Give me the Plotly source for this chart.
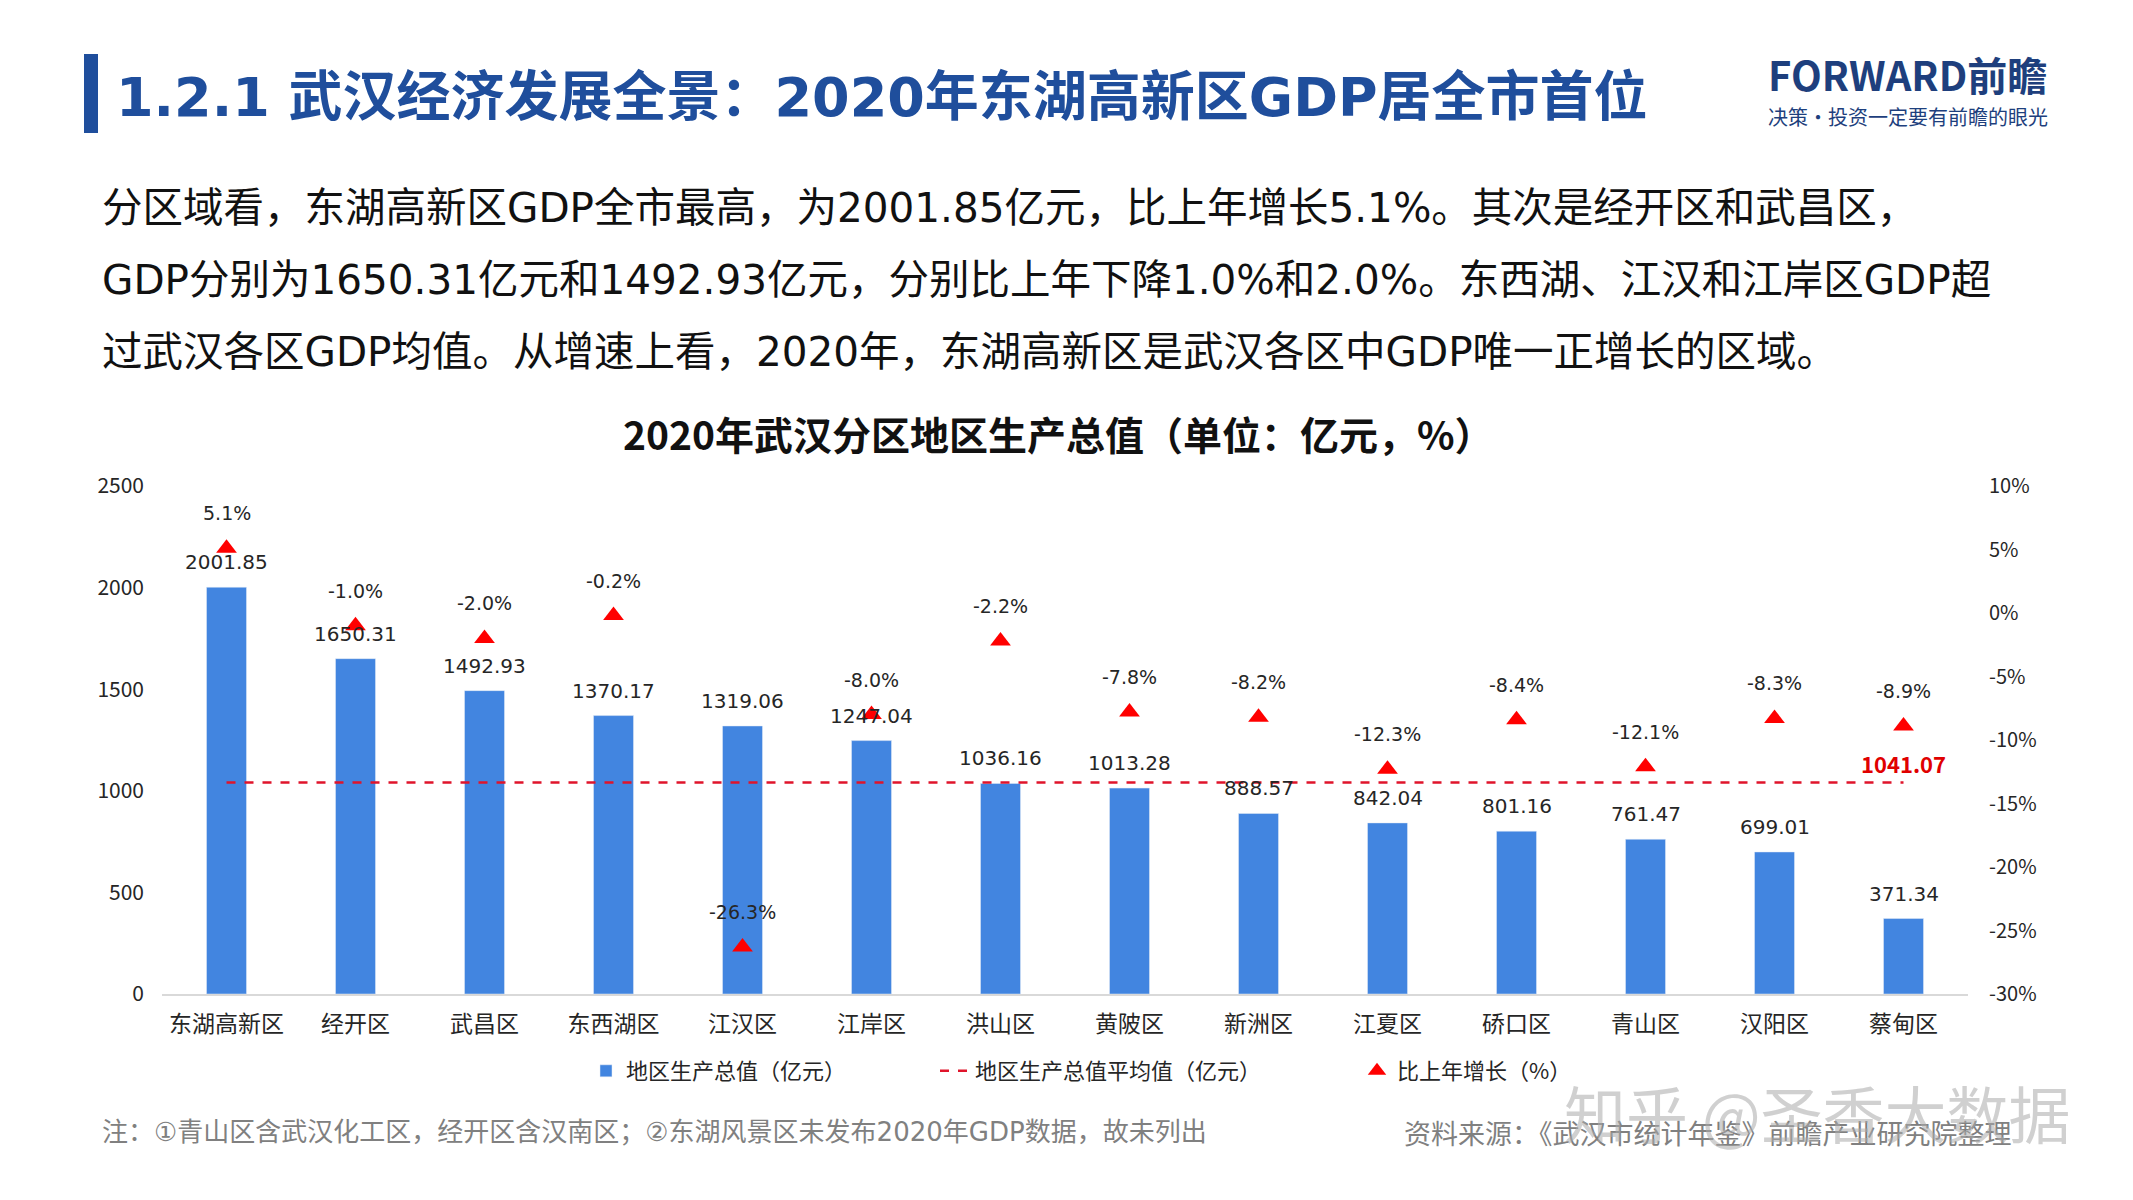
import plotly.graph_objects as go

# ---------------- data ----------------
districts = ["东湖高新区", "经开区", "武昌区", "东西湖区", "江汉区", "江岸区", "洪山区",
             "黄陂区", "新洲区", "江夏区", "硚口区", "青山区", "汉阳区", "蔡甸区"]
gdp = [2001.85, 1650.31, 1492.93, 1370.17, 1319.06, 1247.04, 1036.16,
       1013.28, 888.57, 842.04, 801.16, 761.47, 699.01, 371.34]
growth = [5.1, -1.0, -2.0, -0.2, -26.3, -8.0, -2.2, -7.8, -8.2, -12.3, -8.4, -12.1, -8.3, -8.9]
gdp_avg = 1041.07

left_ticks = [0, 500, 1000, 1500, 2000, 2500]
right_ticks = [10, 5, 0, -5, -10, -15, -20, -25, -30]
right_tick_text = ["10%", "5%", "0%", "-5%", "-10%", "-15%", "-20%", "-25%", "-30%"]

page_title = "1.2.1 武汉经济发展全景：2020年东湖高新区GDP居全市首位"
chart_title = "2020年武汉分区地区生产总值（单位：亿元，%）"
paragraph = [
    "分区域看，东湖高新区GDP全市最高，为2001.85亿元，比上年增长5.1%。其次是经开区和武昌区，",
    "GDP分别为1650.31亿元和1492.93亿元，分别比上年下降1.0%和2.0%。东西湖、江汉和江岸区GDP超",
    "过武汉各区GDP均值。从增速上看，2020年，东湖高新区是武汉各区中GDP唯一正增长的区域。",
]
note_text = "注：①青山区含武汉化工区，经开区含汉南区；②东湖风景区未发布2020年GDP数据，故未列出"
source_text = "资料来源：《武汉市统计年鉴》前瞻产业研究院整理"
legend_names = ["地区生产总值（亿元）", "地区生产总值平均值（亿元）", "比上年增长（%）"]

# ---------------- layout geometry ----------------
W, H = 2133, 1200
OFF = 8  # page body margin
PL, PR, PT, PB = 162, 1968, 486, 994  # target plot area in screenshot pixels
FONT = "Noto Sans CJK SC, Noto Sans, sans-serif"
WIDE = "DejaVu Sans, Noto Sans CJK SC, sans-serif"


def px(x):
    return (x - PL) / (PR - PL)


def py(y):
    return (PB - y) / (PB - PT)


fig = go.Figure()

fig.add_trace(go.Bar(
    x=districts, y=gdp, name=legend_names[0],
    marker=dict(color="#4285e0"), width=0.31, yaxis="y", legend="legend",
))
fig.add_trace(go.Scatter(
    x=districts, y=[gdp_avg] * len(districts), name=legend_names[1],
    mode="lines", line=dict(color="#e0142b", width=2.5, dash="dash"), yaxis="y",
    legend="legend2",
))
fig.add_trace(go.Scatter(
    x=districts, y=growth, name=legend_names[2],
    mode="markers", marker=dict(symbol="triangle-up", size=18, color="#ff0000"),
    yaxis="y2", legend="legend3",
))

annotations = []
# bar value labels
for d, v in zip(districts, gdp):
    annotations.append(dict(x=d, y=v, xref="x", yref="y", text=f"{v:.2f}",
                            showarrow=False, yshift=25,
                            font=dict(size=20, color="#262626", family=WIDE)))
# growth labels
for d, g in zip(districts, growth):
    annotations.append(dict(x=d, y=g, xref="x", yref="y2", text=f"{g:.1f}%",
                            showarrow=False, yshift=35,
                            font=dict(size=19, color="#262626", family=WIDE)))
# average label
annotations.append(dict(x=districts[-1], y=gdp_avg, xref="x", yref="y",
                        text=f"<b>{gdp_avg:.2f}</b>", showarrow=False, yshift=19,
                        font=dict(size=22, color="#e00000", family=FONT)))

# page texts (positions given in screenshot pixels)
annotations.append(dict(x=px(114), y=py(97), xref="paper", yref="paper", text=f"<b>{page_title}</b>",
                        xanchor="left", yanchor="middle", showarrow=False, align="left",
                        font=dict(size=54, color="#1f4e9c", family=WIDE)))
annotations.append(dict(x=px(1766), y=py(74), xref="paper", yref="paper", text="<b>FORWARD前瞻</b>",
                        xanchor="left", yanchor="middle", showarrow=False, align="left",
                        font=dict(size=40, color="#1e3f7d", family=FONT)))
annotations.append(dict(x=px(1766), y=py(116), xref="paper", yref="paper", text="决策·投资一定要有前瞻的眼光",
                        xanchor="left", yanchor="middle", showarrow=False, align="left",
                        font=dict(size=20, color="#1e3f7d", family=FONT)))
for i, line in enumerate(paragraph):
    annotations.append(dict(x=px(100), y=py(208 + 72 * i), xref="paper", yref="paper", text=line,
                            xanchor="left", yanchor="middle", showarrow=False, align="left",
                            font=dict(size=40.5, color="#111111", family=WIDE)))
annotations.append(dict(x=px(1058), y=py(433), xref="paper", yref="paper", text=f"<b>{chart_title}</b>",
                        xanchor="center", yanchor="middle", showarrow=False,
                        font=dict(size=39, color="#111111", family=FONT)))
annotations.append(dict(x=px(100), y=py(1132), xref="paper", yref="paper", text=note_text,
                        xanchor="left", yanchor="middle", showarrow=False, align="left",
                        font=dict(size=26, color="#808080", family=WIDE)))
annotations.append(dict(x=px(1402), y=py(1132), xref="paper", yref="paper", text=source_text,
                        xanchor="left", yanchor="middle", showarrow=False, align="left",
                        font=dict(size=27, color="#808080", family=FONT)))
annotations.append(dict(x=px(1562), y=py(1112), xref="paper", yref="paper", text="知乎 @圣香大数据",
                        xanchor="left", yanchor="middle", showarrow=False, align="left",
                        font=dict(size=62, color="rgba(170,170,170,0.55)", family=FONT)))

shapes = [dict(type="rect", xref="paper", yref="paper",
               x0=px(84), x1=px(98), y0=py(133), y1=py(54),
               fillcolor="#1f4e9c", line=dict(width=0))]

legend_y = 1 - (1071 - OFF) / H


def legend_at(text_start_px):
    return dict(orientation="h", xref="container", yref="container",
                x=(text_start_px - OFF - 44) / W, xanchor="left", y=legend_y, yanchor="middle",
                font=dict(size=22, color="#262626", family=FONT), bgcolor="rgba(0,0,0,0)")


fig.update_layout(
    width=W, height=H,
    margin=dict(l=PL - OFF, r=W - (PR - OFF), t=PT - OFF, b=H - (PB - OFF), pad=0, autoexpand=False),
    paper_bgcolor="white", plot_bgcolor="white",
    font=dict(family=FONT, size=20, color="#262626"),
    showlegend=True,
    legend=legend_at(630),
    legend2=legend_at(979),
    legend3=legend_at(1401),
    xaxis=dict(range=[-0.5, len(districts) - 0.5], showgrid=False, showline=True,
               linecolor="#d9d9d9", linewidth=2, automargin=False,
               tickfont=dict(size=23, color="#262626"), ticks="", ticklabelstandoff=8),
    yaxis=dict(range=[0, 2500], tickvals=left_ticks, showgrid=False, zeroline=False,
               automargin=False, tickfont=dict(size=21, color="#262626"), ticklabelstandoff=17),
    yaxis2=dict(range=[-30, 10], overlaying="y", side="right", tickvals=right_ticks,
                ticktext=right_tick_text, showgrid=False, zeroline=False, automargin=False,
                tickfont=dict(size=20, color="#262626"), ticklabelstandoff=20),
    annotations=annotations,
    shapes=shapes,
    bargap=0.69,
)

fig.write_html("out.html")
